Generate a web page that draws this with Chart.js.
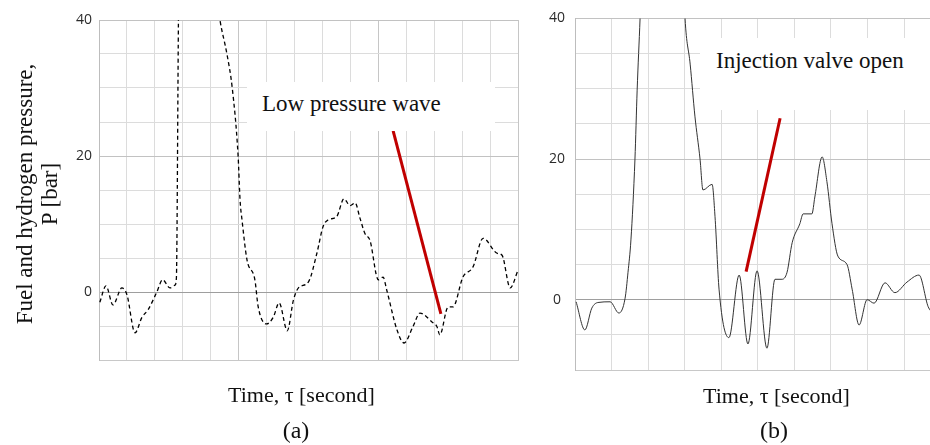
<!DOCTYPE html>
<html lang="en">
<head>
<meta charset="UTF-8">
<title>Fuel and hydrogen pressure</title>
<script src="https://cdn.jsdelivr.net/npm/chart.js"></script>
<style>
  body { margin:0; width:930px; height:445px; overflow:hidden; background:#fff; position:relative;
         font-family:"Liberation Serif", "Times New Roman", serif; color:#111; }
  canvas { position:absolute; top:0; }
  #chartA { left:0; }
  #chartB { left:520px; }
  .txt { position:absolute; white-space:nowrap; font-size:22px; line-height:22px; }
  .cap { position:absolute; width:60px; text-align:center; font-size:24px; line-height:24px; }
  .note { position:absolute; box-sizing:border-box; background:#fff; font-size:23px; line-height:23px; white-space:nowrap; }
  #ytitle { position:absolute; left:-113px; top:169px; width:300px; height:50px; text-align:center;
            font-size:23px; line-height:25px; transform:rotate(-90deg); }
</style>
</head>
<body>
  <canvas id="chartA" width="530" height="445"></canvas>
  <canvas id="chartB" width="440" height="445"></canvas>

  <div id="ytitle">Fuel and hydrogen pressure,<br>P [bar]</div>
  <div class="note" style="left:247px;top:82px;width:248px;height:49px;padding:10px 0 0 15px;">Low pressure wave</div>
  <div class="note" style="left:700px;top:38px;width:240px;height:72px;padding:11px 0 0 16px;">Injection valve open</div>
  <div class="txt" style="left:228px;top:384px;">Time, τ [second]</div>
  <div class="txt" style="left:703px;top:385px;">Time, τ [second]</div>
  <div class="cap" style="left:266px;top:418px;">(a)</div>
  <div class="cap" style="left:744px;top:418px;">(b)</div>

<script>
// (a) fuel/hydrogen pressure, dashed trace
const timeA = [0.03, 0.25, 0.5, 0.82, 1.0, 1.29, 1.54, 1.76, 2.07, 2.28, 2.54, 2.72, 2.77, 2.86, 3.5, 4.2,
  4.33, 4.58, 4.77, 4.98, 5.05, 5.12, 5.3, 5.58, 5.7, 6.0, 6.24, 6.45, 6.74, 6.96, 7.14, 7.5, 7.8, 8.02,
  8.2, 8.51, 8.77, 8.99, 9.17, 9.34, 9.52, 9.7, 10.0, 10.17, 10.3, 10.67, 10.92, 11.24, 11.49, 11.92,
  12.1, 12.2, 12.5, 12.67, 13.03, 13.39, 13.75, 14.25, 14.43, 14.72, 15.0];
const pressureA = [-1.5, 0.9, -1.9, 0.6, -0.4, -6.0, -3.7, -2.6, 0.0, 1.8, 0.6, 1.0, 2.0, 45, 75, 44,
  40, 35, 30, 20, 13.5, 10.6, 4.7, 1.8, -2.2, -4.7, -3.7, -1.6, -5.7, -1.2, 0.6, 1.5, 5.7, 9.6,
  10.6, 11.1, 13.7, 12.7, 13.1, 10.9, 8.6, 7.6, 1.8, 2.2, 0.3, -5.6, -7.5, -5.1, -3.1, -4.4,
  -5.1, -6.3, -2.2, -2.2, 2.2, 3.7, 7.9, 5.7, 5.4, 0.6, 3.2];

// (b) injection trace, solid
const timeB = [0.03, 0.27, 0.46, 0.63, 0.96, 1.2, 1.37, 1.45, 1.53, 1.64, 1.7, 1.78, 1.85, 2.4, 2.95,
  3.01, 3.15, 3.28, 3.42, 3.5, 3.75, 3.83, 3.94, 4.21, 4.49, 4.73, 4.98, 5.25, 5.47, 5.66, 5.8, 5.94,
  6.15, 6.24, 6.48, 6.56, 6.76, 6.89, 7.03, 7.19, 7.44, 7.58, 7.77, 7.99, 8.18, 8.48, 8.75, 9.08,
  9.41, 9.66, 9.8];
const pressureB = [-0.3, -4.3, -1.2, -0.4, -0.3, -1.9, 0.2, 3.9, 8.5, 20, 29.8, 40, 50, 70, 48,
  40, 33.5, 26.1, 20, 15.6, 16.4, 11.8, 1.5, -5.4, 3.5, -6.3, 4.1, -6.9, 2.9, 2.9, 3.9, 8.1,
  10.8, 12.2, 12.2, 14.6, 20.3, 16.8, 10.8, 6.2, 5.0, 1.5, -3.6, 0.0, -0.5, 2.4, 1.0, 2.5,
  3.5, -1.0, -2.0];

// red pointer lines
const pointerTimeA = [10.53, 12.24];
const pointerPressA = [23.7, -3.2];
const pointerTimeB = [4.68, 5.61];
const pointerPressB = [4.0, 25.8];

const yLabels = [0, 20, 40];

const toPoints = (xs, ys) => xs.map((x, i) => ({ x: x, y: ys[i] }));

function makeChart(id, cfg) {
  new Chart(document.getElementById(id), {
    type: 'line',
    data: {
      datasets: [
        {
          data: toPoints(cfg.time, cfg.pressure),
          borderColor: cfg.color,
          borderWidth: cfg.width,
          borderDash: cfg.dash,
          pointRadius: 0,
          cubicInterpolationMode: 'monotone',
          fill: false
        },
        {
          data: toPoints(cfg.pTime, cfg.pPress),
          borderColor: '#c00000',
          borderWidth: 3,
          pointRadius: 0,
          tension: 0,
          fill: false
        }
      ]
    },
    options: {
      responsive: false,
      animation: false,
      events: [],
      layout: { padding: cfg.padding },
      plugins: { legend: { display: false }, tooltip: { enabled: false } },
      scales: {
        x: {
          type: 'linear',
          min: 0, max: cfg.xMax,
          ticks: { display: false, stepSize: 1 },
          grid: { drawTicks: false, color: c => (cfg.xMajor && c.tick.value % 5 === 0) ? '#c6c6c6' : '#dcdcdc' },
          border: { color: '#c8c8c8' },
          afterFit: s => { s.height = 0; }
        },
        y: {
          min: -10, max: 40,
          ticks: {
            stepSize: 5,
            padding: cfg.tickPad,
            crossAlign: cfg.cross,
            color: '#2b2b2b',
            font: { family: 'Open Sans', size: 14 },
            callback: v => yLabels.includes(v) ? String(v) : ''
          },
          grid: {
            drawTicks: false,
            color: c => c.tick.value === 0 ? '#9e9e9e' : (c.tick.value % 20 === 0 ? '#c2c2c2' : '#dcdcdc')
          },
          border: { color: '#bdbdbd' },
          afterFit: s => { s.width = cfg.yWidth; }
        }
      }
    }
  });
}

makeChart('chartA', {
  time: timeA, pressure: pressureA, color: '#000', width: 1.3, dash: [4, 3],
  pTime: pointerTimeA, pPress: pointerPressA,
  xMax: 15, xMajor: true,
  padding: { left: 60, top: 20, right: 12, bottom: 85 },
  yWidth: 39, tickPad: 7, cross: 'near'
});

makeChart('chartB', {
  time: timeB, pressure: pressureB, color: '#333', width: 1, dash: [],
  pTime: pointerTimeB, pPress: pointerPressB,
  xMax: 10, xMajor: false,
  padding: { left: 15, top: 10, right: 19.4, bottom: 75 },
  yWidth: 40, tickPad: 10, cross: 'center'
});
</script>
</body>
</html>
